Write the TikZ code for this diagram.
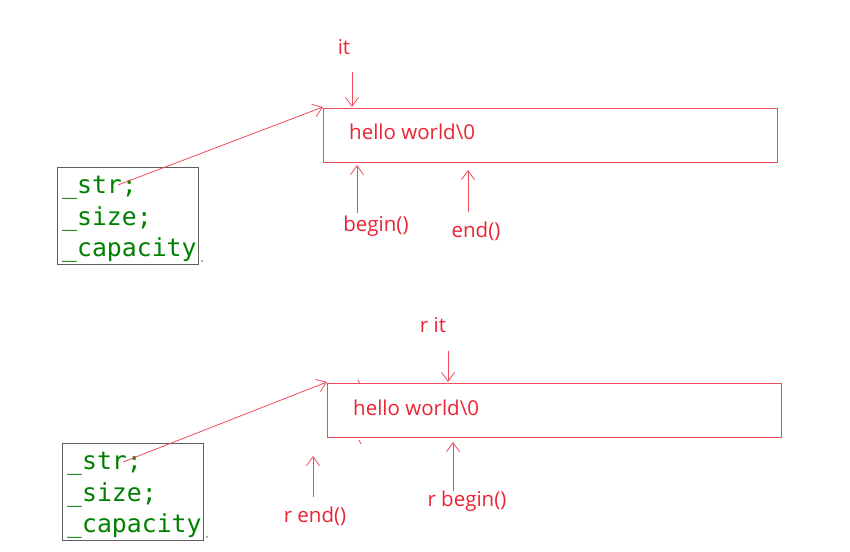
\documentclass[tikz,border=0pt]{standalone}
\usepackage{fontspec}
\setmainfont{Open Sans}
\newfontfamily\codefont{DejaVu Sans Mono}
\usetikzlibrary{arrows.meta}
\definecolor{pen}{RGB}{235,35,50}
\definecolor{penline}{RGB}{238,75,88}
\definecolor{codegreen}{RGB}{0,128,0}
\definecolor{framegray}{RGB}{95,95,95}
\begin{document}
\begin{tikzpicture}[x=1pt,y=-1pt,
  bufbox/.style={draw=penline, line width=0.9pt, minimum width=454pt, minimum height=54pt, anchor=north west, inner sep=0},
  lbl/.style={text=pen, font=\fontsize{20.5}{24}\selectfont, inner sep=0},
  code/.style={text=codegreen, font=\codefont\fontsize{24.8}{30}\selectfont, anchor=base west, inner sep=0},
  structbox/.style={draw=framegray, line width=1.1pt, minimum width=141pt, minimum height=97pt, anchor=north west, inner sep=0},
  ptr/.style={draw=penline, line width=0.8pt, -{Straight Barb[length=9pt,width=13pt,line width=0.8pt]}},
  speck/.style={draw=penline, line width=0.8pt}]
\useasboundingbox (0,0) rectangle (850,551);
\fill[white] (0,0) rectangle (850,551);

% ---------- top diagram ----------
\node[bufbox] (buf1) at (323,108) {};
\node[lbl, anchor=base west] (hw1) at (349,139) {hello world\textbackslash 0};
\node[lbl] (it1) at (344,47) {it};
\node[lbl] (begin1) at (376,226) {begin()};
\node[lbl] (end1) at (476,231) {end()};

\node[structbox] (s1) at (57,167) {};
\node[code] (s1a) at (62,193) {\_str;};
\node[code] (s1b) at (62,225) {\_size;};
\node[code] (s1c) at (62,256) {\_capacity};
\fill[framegray] (202,261) circle (0.9);

\coordinate (str1) at (118,185);
\coordinate (buf1tip) at (323,107);
\draw[ptr] (str1) -- (buf1tip);

\coordinate (it1s) at (352,72);
\coordinate (it1e) at (352,107);
\draw[ptr] (it1s) -- (it1e);

\coordinate (b1s) at (357,213);
\coordinate (b1e) at (357,165);
\draw[ptr] (b1s) -- (b1e);

\coordinate (e1s) at (468,212);
\coordinate (e1e) at (468,170);
\draw[ptr] (e1s) -- (e1e);

% ---------- bottom diagram ----------
\node[bufbox] (buf2) at (327,383) {};
\node[lbl, anchor=base west] (hw2) at (353,415) {hello world\textbackslash 0};
\node[lbl] (rit2) at (433,325) {r it};
\node[lbl] (rbegin2) at (467,501) {r begin()};
\node[lbl] (rend2) at (315,516) {r end()};

\node[structbox] (s2) at (62,443) {};
\node[code] (s2a) at (67,469) {\_str;};
\node[code] (s2b) at (67,501) {\_size;};
\node[code] (s2c) at (67,532) {\_capacity};
\fill[framegray] (207,537) circle (0.9);

\coordinate (str2) at (123,462);
\coordinate (buf2tip) at (327,382);
\draw[ptr] (str2) -- (buf2tip);

\coordinate (rit2s) at (448,351);
\coordinate (rit2e) at (448,382);
\draw[ptr] (rit2s) -- (rit2e);

\coordinate (rb2s) at (453,491);
\coordinate (rb2e) at (453,442);
\draw[ptr] (rb2s) -- (rb2e);

\coordinate (re2s) at (313,497);
\coordinate (re2e) at (313,456);
\draw[ptr] (re2s) -- (re2e);

% small stray pen marks
\draw[speck] (358,380) -- (360,384);
\draw[speck] (359,440) -- (361,444);
\end{tikzpicture}
\end{document}
